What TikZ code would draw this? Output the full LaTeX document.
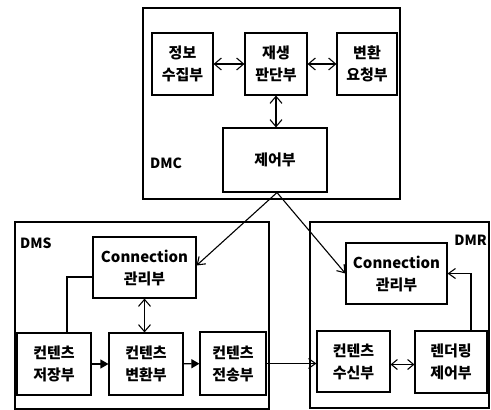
\documentclass[tikz,border=0pt]{standalone}
\usepackage{fontspec}
\setmainfont{Noto Sans CJK KR}
\usetikzlibrary{arrows.meta}
\begin{document}
\begin{tikzpicture}[x=1pt,y=-1pt,
  unit/.style={draw,line width=1.1pt,align=center,inner sep=0pt,
    font=\fontsize{15}{22}\selectfont\bfseries},
  frame/.style={draw,line width=1.1pt},
  lbl/.style={font=\fontsize{14}{16}\selectfont\bfseries,inner sep=0pt},
  conn/.style={line width=1.1pt},
  dbl/.style={conn,{Straight Barb[length=7pt,width=12pt]}-{Straight Barb[length=7pt,width=12pt]}},
  one/.style={conn,-{Straight Barb[length=7pt,width=10pt]}},
  fill arrow/.style={conn,-{Triangle[length=8pt,width=9pt]}}]
\useasboundingbox (0,0) rectangle (491,410);
% DMC
\draw[frame] (143,8) rectangle (400,199);
\node[lbl,anchor=west] (dmc) at (150,163) {DMC};
\node[unit,minimum width=61pt,minimum height=62pt] (info) at (182.5,64) {정보\\수집부};
\node[unit,minimum width=62pt,minimum height=62pt] (judge) at (276,64) {재생\\판단부};
\node[unit,minimum width=60pt,minimum height=62pt] (req) at (367,64) {변환\\요청부};
\node[unit,minimum width=104pt,minimum height=64pt] (ctrl) at (275,160) {제어부};
\draw[dbl] (info) -- (judge);
\draw[dbl] (judge) -- (req);
\draw[dbl] (judge.south) -- (judge.south |- ctrl.north);
% DMS
\draw[frame] (15,222) rectangle (269,409);
\node[lbl,anchor=west] (dms) at (20,243) {DMS};
\node[unit,minimum width=103pt,minimum height=61pt] (cmS) at (144.5,267.5) {Connection\\관리부};
\node[unit,minimum width=74pt,minimum height=62pt] (store) at (54,364) {컨텐츠\\저장부};
\node[unit,minimum width=74pt,minimum height=62pt] (conv) at (146,364) {컨텐츠\\변환부};
\node[unit,minimum width=66pt,minimum height=63pt] (send) at (233,363.5) {컨텐츠\\전송부};
% DMR
\draw[frame] (310,222) rectangle (489,408);
\node[lbl,anchor=east] (dmr) at (487,240) {DMR};
\node[unit,minimum width=101pt,minimum height=61pt] (cmR) at (396.5,273.5) {Connection\\관리부};
\node[unit,minimum width=73pt,minimum height=61pt] (recv) at (353.5,361.5) {컨텐츠\\수신부};
\node[unit,minimum width=72pt,minimum height=62pt] (rend) at (451,362) {렌더링\\제어부};
% connectors
\coordinate (apex) at ([xshift=2pt]ctrl.south);
\draw[one] (apex) -- ([yshift=2pt]cmS.east);
\draw[one] (apex) -- (cmR.west);
\draw[conn] ([xshift=13pt]store.north) |- ([yshift=-9.5pt]cmS.west);
\draw[dbl] (cmS.south) -- (cmS.south |- conv.north);
\draw[fill arrow] (store) -- (conv);
\draw[fill arrow] (conv) -- (send);
\draw[one] (send.east) -- (send.east -| recv.west);
\draw[conn,{Straight Barb[length=6pt,width=10pt]}-{Straight Barb[length=6pt,width=10pt]}] ([yshift=-3pt]recv.east) -- ([yshift=-3pt]recv.east -| rend.west);
\draw[one] ([xshift=20pt]rend.north) |- (cmR.east);
\end{tikzpicture}
\end{document}
